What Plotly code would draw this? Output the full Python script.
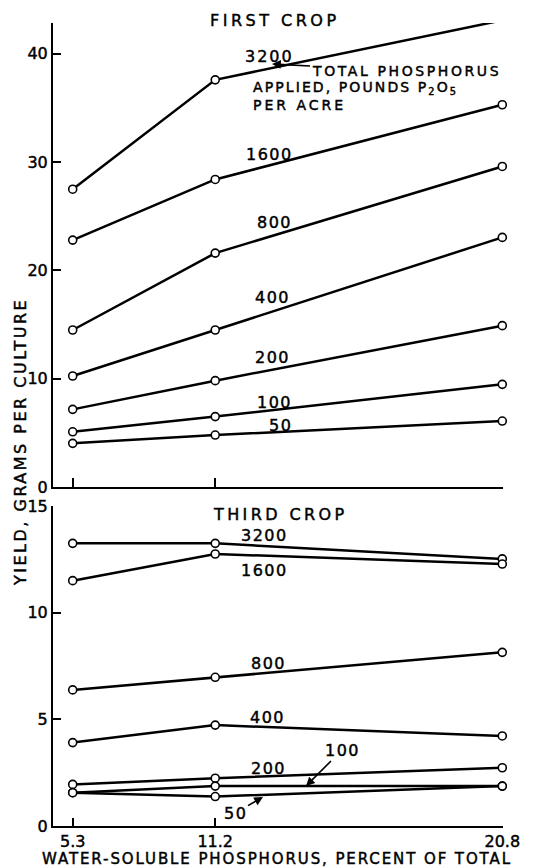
import plotly.graph_objects as go

# ---------------- data ----------------
X_VALUES = [5.3, 11.2, 20.8]
X_TICK_LABELS = ["5.3", "11.2", "20.8"]
RATES = ["3200", "1600", "800", "400", "200", "100", "50"]

FIRST_CROP = {
    "3200": [27.5, 37.6, 43.1],
    "1600": [22.8, 28.4, 35.3],
    "800": [14.5, 21.6, 29.6],
    "400": [10.25, 14.5, 23.05],
    "200": [7.17, 9.82, 14.9],
    "100": [5.1, 6.5, 9.48],
    "50": [4.03, 4.8, 6.09],
}
THIRD_CROP = {
    "3200": [13.25, 13.25, 12.52],
    "1600": [11.5, 12.75, 12.28],
    "800": [6.38, 6.97, 8.14],
    "400": [3.91, 4.73, 4.22],
    "200": [1.95, 2.24, 2.73],
    "100": [1.56, 1.87, 1.87],
    "50": [1.56, 1.38, 1.87],
}
FIRST_TICKS = [0, 10, 20, 30, 40]
THIRD_TICKS = [0, 5, 10, 15]

# The original's x axis is not linear in the percentage; it is well
# approximated by a power scale.
POWER = 1.32


def xscale(v):
    return v ** POWER


FONT = "DejaVu Sans"
W, H = 533, 868
ML, MR, MT, MB = 53, 30, 23, 42
PW = W - ML - MR
PH = H - MT - MB


def px(xp):
    return (xp - ML) / PW


def py(yp):
    return (H - MB - yp) / PH


def ls(text, sp=0.0):
    # letter-spaced, slightly stroked lettering (like the pen-drawn original)
    return (f'<span style="letter-spacing:{sp}px;stroke:black;'
            f'stroke-width:0.45px">{text}</span>')


# x range: 5.3 sits ~19.7 px right of the axis, 20.8 ~0.7 px left of its end
a, b = xscale(X_VALUES[0]), xscale(X_VALUES[-1])
s = (b - a) / (449.3 - 19.7)
XRANGE = [a - 19.7 * s, a + (PW - 19.7) * s]

fig = go.Figure()

line_style = dict(color="black", width=2.5)
marker_style = dict(symbol="circle", size=8, color="white",
                    line=dict(color="black", width=1.6))

xs = [xscale(v) for v in X_VALUES]
for r in RATES:
    fig.add_trace(go.Scatter(x=xs, y=FIRST_CROP[r], mode="lines+markers",
                             line=line_style, marker=marker_style,
                             cliponaxis=False, showlegend=False,
                             xaxis="x", yaxis="y", name=r))
for r in RATES:
    fig.add_trace(go.Scatter(x=xs, y=THIRD_CROP[r], mode="lines+markers",
                             line=line_style, marker=marker_style,
                             cliponaxis=False, showlegend=False,
                             xaxis="x2", yaxis="y2", name=r))

axis_common = dict(showline=True, linecolor="black", linewidth=2,
                   ticks="inside", tickcolor="black", tickwidth=1.5,
                   showgrid=False, zeroline=False,
                   tickfont=dict(family=FONT, size=16, color="black"))

top_dom = [py(487), 1.0]
bot_dom = [0.0, py(506)]

fig.update_layout(
    width=W, height=H,
    margin=dict(l=ML, r=MR, t=MT, b=MB),
    paper_bgcolor="white", plot_bgcolor="white",
    xaxis=dict(axis_common, range=XRANGE, domain=[0, 1], anchor="y",
               tickvals=xs, showticklabels=False, ticklen=9),
    yaxis=dict(axis_common, range=[0, 42.85], domain=top_dom, anchor="x",
               tickvals=FIRST_TICKS,
               ticktext=[ls(str(t)) for t in FIRST_TICKS], ticklen=8),
    xaxis2=dict(axis_common, range=XRANGE, domain=[0, 1], anchor="y2",
                tickvals=xs, ticktext=[ls(t) for t in X_TICK_LABELS],
                ticklen=8),
    yaxis2=dict(axis_common, range=[0, 15], domain=bot_dom, anchor="x2",
                tickvals=THIRD_TICKS,
                ticktext=[ls(str(t)) for t in THIRD_TICKS], ticklen=8),
)

annotations = []


def label(text, xc, yc, sp=1.5, anchor="center", size=16, head=None):
    ann = dict(text=ls(text, sp), xref="paper", yref="paper",
               xanchor=anchor, yanchor="middle",
               font=dict(family=FONT, size=size, color="black"))
    if head is None:
        ann.update(x=px(xc), y=py(yc), showarrow=False)
    else:
        # arrow from the label (drawn at xc, yc) to the point 'head'
        ann.update(x=px(head[0]), y=py(head[1]), showarrow=True,
                   ax=xc - head[0], ay=yc - head[1],
                   arrowhead=2, arrowsize=1.1, arrowwidth=1.6,
                   arrowcolor="black", standoff=0, startstandoff=0)
    annotations.append(ann)


# panel titles
label("FIRST CROP", 275, 21, sp=3.5)
label("THIRD CROP", 280, 514, sp=3.4)

# first crop labels
label("3200", 269, 56, sp=2)
label("TOTAL PHOSPHORUS", 406, 71, sp=2.6, size=14, head=(272, 64))
label("APPLIED, POUNDS P<sub>2</sub>O<sub>5</sub>", 251, 88, sp=2.1,
      anchor="left", size=14)
label("PER ACRE", 251, 105, sp=3.0, anchor="left", size=14)
label("1600", 269, 154)
label("800", 274, 222)
label("400", 272, 297)
label("200", 272, 357)
label("100", 274, 402)
label("50", 280, 425)

# third crop labels
label("3200", 264, 535)
label("1600", 264, 570)
label("800", 268, 663)
label("400", 267, 717)
label("200", 268, 768)
label("100", 342, 750, head=(306, 786))
label("50", 235, 813, head=(263, 797))

# axis titles
annotations.append(dict(text=ls("YIELD, GRAMS PER CULTURE", 2.5),
                        x=px(20), y=py(442), xref="paper", yref="paper",
                        showarrow=False, textangle=-90,
                        xanchor="center", yanchor="middle",
                        font=dict(family=FONT, size=16, color="black")))
annotations.append(dict(text=ls("WATER-SOLUBLE PHOSPHORUS, PERCENT OF TOTAL", 1.9),
                        x=px(277), y=py(859), xref="paper", yref="paper",
                        showarrow=False, xanchor="center", yanchor="middle",
                        font=dict(family=FONT, size=15, color="black")))

fig.update_layout(annotations=annotations)
fig.write_html("out.html",
               config={"displayModeBar": False},
               post_script="document.body.style.margin='0';")
